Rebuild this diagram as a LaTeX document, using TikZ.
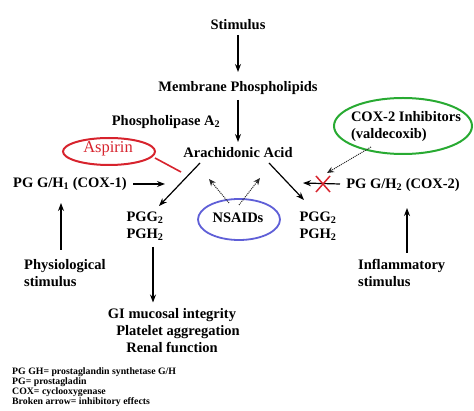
\documentclass[tikz,border=0pt]{standalone}
\usepackage{fontspec}
\setmainfont{Liberation Serif}
\usetikzlibrary{arrows.meta,calc,shapes.geometric}
\definecolor{asred}{RGB}{215,35,45}
\definecolor{cxgreen}{RGB}{40,170,50}
\definecolor{nsblue}{RGB}{95,95,215}
\begin{document}
\begin{tikzpicture}[x=1pt,y=-1pt,
  lbl/.style={font=\bfseries\fontsize{14.5}{17}\selectfont,inner sep=0pt,align=center},
  lbll/.style={lbl,align=left},
  arr/.style={-{Stealth[length=8pt,width=6pt]},line width=1.2pt},
  darr/.style={-{Stealth[length=7pt,width=6pt]},line width=1pt,densely dotted,black!85},
  oval/.style={ellipse,draw,line width=2pt,inner sep=0pt}]
\useasboundingbox (0,0) rectangle (474,411);
\node[lbl] (stim) at (238,25) {Stimulus};
\node[lbl] (mem) at (238,88) {Membrane Phospholipids};
\node[lbl] (pla) at (166,122) {Phospholipase A\textsubscript{2}};
\node[lbl] (ara) at (238,153) {Arachidonic Acid};
\node[oval,draw=asred,minimum width=92pt,minimum height=27pt] (asp) at (109,151.5) {};
\node[font=\fontsize{16.5}{18}\selectfont,text=asred,inner sep=0pt] (asptxt) at (108,149) {Aspirin};
\node[oval,draw=cxgreen,minimum width=138pt,minimum height=56pt] (cxi) at (403,126) {};
\node[lbll] (cxitxt) at (406,127) {COX-2 Inhibitors\\(valdecoxib)};
\node[lbl] (cox1) at (70,184) {PG G/H\textsubscript{1} (COX-1)};
\node[lbl] (cox2) at (403,185) {PG G/H\textsubscript{2} (COX-2)};
\node[lbll] (pggl) at (145,226) {PGG\textsubscript{2}\\PGH\textsubscript{2}};
\node[lbll] (pggr) at (318,226) {PGG\textsubscript{2}\\PGH\textsubscript{2}};
\node[oval,draw=nsblue,minimum width=82pt,minimum height=41pt,line width=1.8pt] (ns) at (239,219.5) {};
\node[lbl] (nstxt) at (238,218) {NSAIDs};
\node[lbll,anchor=west] (phys) at (24,273) {Physiological\\stimulus};
\node[lbll,anchor=west] (infl) at (358,273) {Inflammatory\\stimulus};
\node[lbl] (gi) at (172,330.5) {GI mucosal integrity\\\hspace*{12pt}Platelet aggregation\\Renal function};
\node[font=\bfseries\fontsize{9.8}{10}\selectfont,align=left,inner sep=0pt,anchor=north west] (leg) at (12,368)
  {PG GH= prostaglandin synthetase G/H\\PG= prostagladin\\COX= cyclooxygenase\\Broken arrow= inhibitory effects};
% arrows
\draw[arr] ($(stim)+(0,10)$) -- ($(mem)+(0,-16)$);
\draw[arr] ($(mem)+(0,12)$) -- ($(ara)+(0,-11)$);
\draw[arr] ($(ara)+(-38,10)$) -- ($(pggl)+(14,-20)$);
\draw[arr] ($(ara)+(31,10)$) -- ($(pggr)+(-14,-26)$);
\draw[arr] ($(cox1)+(63,0)$) -- ($(ara)+(-73,31)$);
\draw[arr] ($(cox2)+(-63,-1)$) -- ($(ara)+(65,30)$);
\draw[arr] ($(phys.west)+(37,-23)$) -- ($(cox1)+(-9,19)$);
\draw[arr] ($(infl.west)+(49,-20)$) -- ($(cox2)+(4,23)$);
\draw[arr] ($(pggl)+(8,21)$) -- ($(gi)+(-19,-28)$);
\draw[asred,line width=1.6pt] ($(asp)+(46,6.5)$) -- ($(ara)+(-57,19)$);
\draw[asred,line width=1.5pt] ($(cox2)+(-87,-9)$) -- ($(cox2)+(-73,7)$)
  ($(cox2)+(-87,7)$) -- ($(cox2)+(-73,-9)$);
\draw[darr] ($(cxi)+(-32,21)$) -- ($(cox2)+(-76,-12)$);
\draw[darr] ($(ns)+(-10,-16.5)$) -- ($(ara)+(-29,26)$);
\draw[darr] ($(ns)+(0,-14.5)$) -- ($(ara)+(22,25)$);
\end{tikzpicture}
\end{document}
